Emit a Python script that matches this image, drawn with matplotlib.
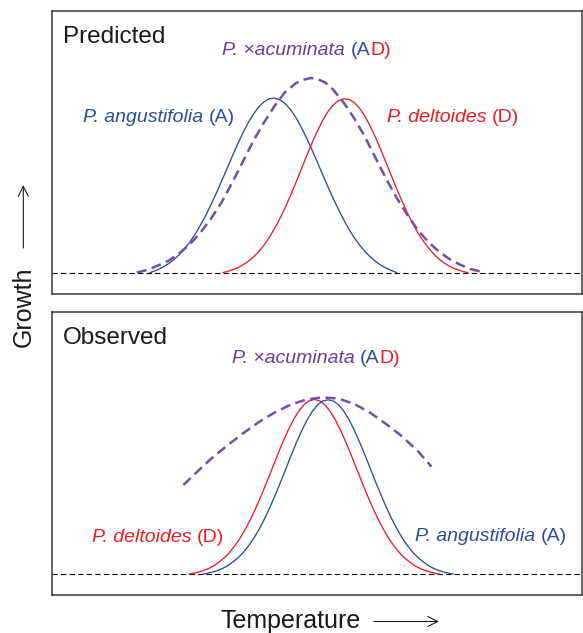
import matplotlib
matplotlib.use("Agg")
import matplotlib.pyplot as plt

plt.rcParams['font.family'] = ['Liberation Sans', 'DejaVu Sans']

BLUE = '#2c4c9c'
RED = '#ec1c24'
PURPLE = '#6a3d9a'
PURPLE_LINE = '#7250a8'

# Predicted panel (temperature in arbitrary units 0-100, growth relative to peak)
pred_a_temp = [18.5, 19, 20, 21, 22, 23, 24, 25, 26, 27, 28, 29, 30, 31, 32, 33, 34,
               35, 36, 37, 38, 39, 40, 41, 42, 43, 44, 45, 46, 47, 48, 49, 50, 51,
               52, 53, 54, 55, 56, 57, 58, 59, 60, 61, 62, 63, 64, 65]
pred_a_growth = [0.0, 0.005, 0.017, 0.032, 0.051, 0.074, 0.102, 0.136, 0.174, 0.220,
                 0.271, 0.327, 0.389, 0.455, 0.524, 0.594, 0.665, 0.734, 0.799, 0.858,
                 0.908, 0.949, 0.978, 0.996, 1.0, 0.990, 0.968, 0.934, 0.889, 0.835,
                 0.773, 0.707, 0.637, 0.566, 0.496, 0.428, 0.364, 0.304, 0.250, 0.201,
                 0.159, 0.122, 0.091, 0.065, 0.043, 0.026, 0.012, 0.0]

pred_d_temp = [32.3, 33, 34, 35, 36, 37, 38, 39, 40, 41, 42, 43, 44, 45, 46, 47, 48,
               49, 50, 51, 52, 53, 54, 55, 56, 57, 58, 59, 60, 61, 62, 63, 64, 65,
               66, 67, 68, 69, 70, 71, 72, 73, 74, 75, 76, 77, 78, 78.4]
pred_d_growth = [0.0, 0.005, 0.015, 0.027, 0.043, 0.064, 0.089, 0.120, 0.157, 0.201,
                 0.252, 0.309, 0.372, 0.441, 0.514, 0.589, 0.665, 0.738, 0.806, 0.868,
                 0.920, 0.958, 0.984, 0.995, 0.993, 0.975, 0.943, 0.898, 0.841, 0.777,
                 0.707, 0.632, 0.557, 0.483, 0.412, 0.345, 0.284, 0.229, 0.182, 0.142,
                 0.107, 0.078, 0.055, 0.036, 0.022, 0.011, 0.002, 0.0]

pred_ad_temp = [16, 18, 20, 22, 24, 26, 28, 30, 32, 34, 36, 38, 40, 42, 44, 46, 47.5,
                48.75, 50, 51.5, 53, 55, 57, 59, 61, 63, 65, 67, 69, 71, 73, 75, 77,
                79, 81.5]
pred_ad_growth = [0.0, 0.015, 0.040, 0.068, 0.110, 0.162, 0.229, 0.309, 0.402, 0.515,
                  0.635, 0.755, 0.860, 0.955, 1.035, 1.085, 1.105, 1.115, 1.110, 1.090,
                  1.050, 0.975, 0.885, 0.780, 0.660, 0.540, 0.430, 0.332, 0.245, 0.175,
                  0.120, 0.077, 0.045, 0.020, 0.0]

# Observed panel
obs_d_temp = [25.9, 26.5, 27.5, 28.5, 29.5, 30.5, 31.5, 32.5, 33.5, 34.5, 35.5, 36.5,
              37.5, 38.5, 39.5, 40.5, 41.5, 42.5, 43.5, 44.5, 45.5, 46.5, 47.5, 48.5,
              49.5, 50.5, 51.5, 52.5, 53.5, 54.5, 55.5, 56.5, 57.5, 58.5, 59.5, 60.5,
              61.5, 62.5, 63.5, 64.5, 65.5, 66.5, 67.5, 68.5, 69.5, 70.5, 71.5, 72.5, 73.1]
obs_d_growth = [0.0, 0.003, 0.010, 0.019, 0.031, 0.047, 0.068, 0.093, 0.124, 0.162,
                0.206, 0.258, 0.316, 0.381, 0.451, 0.525, 0.601, 0.678, 0.752, 0.820,
                0.881, 0.931, 0.969, 0.992, 1.0, 0.992, 0.969, 0.931, 0.881, 0.820,
                0.752, 0.678, 0.601, 0.525, 0.451, 0.381, 0.316, 0.258, 0.206, 0.162,
                0.124, 0.093, 0.068, 0.047, 0.031, 0.019, 0.010, 0.003, 0.0]

obs_a_temp = [28.5, 29.1, 30.1, 31.1, 32.1, 33.1, 34.1, 35.1, 36.1, 37.1, 38.1, 39.1,
              40.1, 41.1, 42.1, 43.1, 44.1, 45.1, 46.1, 47.1, 48.1, 49.1, 50.1, 51.1,
              52.1, 53.1, 54.1, 55.1, 56.1, 57.1, 58.1, 59.1, 60.1, 61.1, 62.1, 63.1,
              64.1, 65.1, 66.1, 67.1, 68.1, 69.1, 70.1, 71.1, 72.1, 73.1, 74.1, 75.1, 75.7]
obs_a_growth = [0.0, 0.003, 0.010, 0.019, 0.031, 0.047, 0.068, 0.093, 0.124, 0.162,
                0.206, 0.258, 0.316, 0.381, 0.451, 0.525, 0.601, 0.678, 0.752, 0.820,
                0.881, 0.931, 0.969, 0.991, 0.998, 0.991, 0.969, 0.931, 0.881, 0.820,
                0.752, 0.678, 0.601, 0.525, 0.451, 0.381, 0.316, 0.258, 0.206, 0.162,
                0.124, 0.093, 0.068, 0.047, 0.031, 0.019, 0.010, 0.003, 0.0]

obs_ad_temp = [24.8, 27, 30, 33, 36, 39, 42, 45, 48, 51, 54, 57, 60, 63, 66, 69, 71.6]
obs_ad_growth = [0.51, 0.575, 0.66, 0.735, 0.805, 0.87, 0.925, 0.97, 1.0, 1.012,
                 1.005, 0.975, 0.925, 0.86, 0.79, 0.705, 0.615]

LABEL_SIZE = 14


def style_panel(ax, ylim):
    ax.set_xlim(0, 100)
    ax.set_ylim(*ylim)
    ax.set_xticks([])
    ax.set_yticks([])
    for s in ax.spines.values():
        s.set_linewidth(1.1)
        s.set_color('#3a3a3a')
    ax.axhline(0, color='black', lw=0.8, ls=(0, (4.8, 2.9)), zorder=1)


def multi_label(ax, x, y, parts):
    """Write text pieces of different colour/style one after another."""
    text, color, style = parts[0]
    prev = ax.text(x, y, text, color=color, style=style, fontsize=LABEL_SIZE,
                   va='baseline', ha='left')
    for text, color, style in parts[1:]:
        prev = ax.annotate(text, xy=(1, 0), xycoords=prev, va='bottom', ha='left',
                           color=color, style=style, fontsize=LABEL_SIZE)


fig = plt.figure(figsize=(5.83, 6.33), dpi=100)
ax_top = fig.add_axes([52 / 583, 1 - 294.5 / 633, 530 / 583, 283.5 / 633])
ax_bot = fig.add_axes([52 / 583, 1 - 595 / 633, 530 / 583, 283 / 633])

# --- Predicted ---
style_panel(ax_top, (-0.126, 1.499))
ax_top.plot(pred_a_temp, pred_a_growth, color=BLUE, lw=0.95, zorder=2)
ax_top.plot(pred_d_temp, pred_d_growth, color=RED, lw=0.95, zorder=2)
ax_top.plot(pred_ad_temp, pred_ad_growth, color=PURPLE_LINE, lw=1.8,
            ls=(0, (4, 2.2)), zorder=3)
ax_top.text(2.08, 1.317, 'Predicted', fontsize=17.5, color='#1a1a1a', va='baseline')
multi_label(ax_top, 32.1, 1.245, [('P. \u00d7acuminata ', PURPLE, 'italic'),
                                   ('(A', BLUE, 'normal'), ('D)', RED, 'normal')])
multi_label(ax_top, 5.85, 0.864, [('P. angustifolia ', BLUE, 'italic'),
                                   ('(A)', BLUE, 'normal')])
multi_label(ax_top, 63.15, 0.864, [('P. deltoides ', RED, 'italic'),
                                    ('(D)', RED, 'normal')])

# --- Observed ---
style_panel(ax_bot, (-0.120, 1.501))
ax_bot.plot(obs_d_temp, obs_d_growth, color=RED, lw=0.95, zorder=2)
ax_bot.plot(obs_a_temp, obs_a_growth, color=BLUE, lw=0.95, zorder=2)
ax_bot.plot(obs_ad_temp, obs_ad_growth, color=PURPLE_LINE, lw=1.8,
            ls=(0, (4, 2.2)), zorder=3)
ax_bot.text(2.08, 1.316, 'Observed', fontsize=17.5, color='#1a1a1a', va='baseline')
multi_label(ax_bot, 33.9, 1.207, [('P. \u00d7acuminata ', PURPLE, 'italic'),
                                   ('(A', BLUE, 'normal'), ('D)', RED, 'normal')])
multi_label(ax_bot, 7.5, 0.185, [('P. deltoides ', RED, 'italic'),
                                  ('(D)', RED, 'normal')])
multi_label(ax_bot, 68.5, 0.191, [('P. angustifolia ', BLUE, 'italic'),
                                   ('(A)', BLUE, 'normal')])

# axis labels with arrows
fig.text(23.5 / 583, 1 - 307 / 633, 'Growth', rotation=90, fontsize=18,
         ha='center', va='center', color='#1a1a1a')
fig.text(291 / 583, 1 - 628 / 633, 'Temperature', fontsize=18,
         ha='center', va='baseline', color='#1a1a1a')
arrow = dict(arrowstyle='->', lw=0.8, color='#1a1a1a', shrinkA=0, shrinkB=0,
             mutation_scale=18)
ax_top.annotate('', xy=(23.3, 633 - 185), xytext=(23.3, 633 - 248),
                xycoords='figure pixels', textcoords='figure pixels',
                arrowprops=arrow, annotation_clip=False)
ax_bot.annotate('', xy=(439, 633 - 621.5), xytext=(374, 633 - 621.5),
                xycoords='figure pixels', textcoords='figure pixels',
                arrowprops=arrow, annotation_clip=False)

fig.savefig('out.png', dpi=100)
